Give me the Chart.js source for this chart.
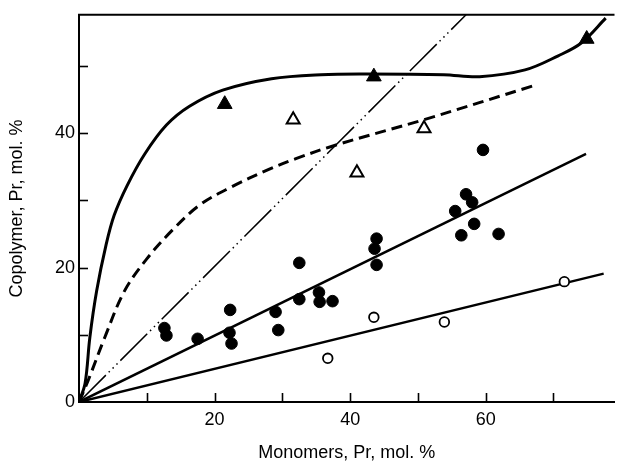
<!DOCTYPE html>
<html lang="en">
<head>
<meta charset="UTF-8">
<title>Copolymer vs Monomers</title>
<script src="https://cdn.jsdelivr.net/npm/chart.js"></script>
<style>
    html, body { margin: 0; padding: 0; background: #fff; }
    #wrap { width: 624px; height: 464px; }
</style>
</head>
<body>
<div id="wrap"><canvas id="chart" width="624" height="464"></canvas></div>
<script>
    // values (x = monomers Pr mol %, y = copolymer Pr mol %)
    const filledTriangles = [[21.5, 44.3], [43.5, 48.4], [74.9, 54.0]];
    const openTriangles = [[31.6, 42.0], [50.9, 40.7], [41.0, 34.1]];
    const filledCircles = [
        [12.6, 11.0], [12.9, 9.9], [17.5, 9.4], [22.3, 13.7], [22.2, 10.3], [22.5, 8.7],
        [29.0, 13.4], [29.4, 10.7], [32.5, 20.7], [32.5, 15.3], [35.4, 16.3], [35.5, 14.9],
        [37.4, 15.0], [43.9, 24.3], [43.6, 22.8], [43.9, 20.4], [56.4, 24.8], [61.9, 25.0],
        [58.3, 26.5], [55.5, 28.4], [57.1, 30.9], [58.0, 29.7], [59.6, 37.5]
    ];
    const openCircles = [[36.7, 6.5], [43.5, 12.6], [53.9, 11.9], [71.6, 17.9]];

    const solidCurve = [
        [0, 0], [0.9, 2.8], [1.6, 9.6], [2.6, 16.5], [4.0, 23.4], [5.2, 27.8], [7.1, 32.2],
        [9.7, 36.9], [12.9, 41.2], [16.3, 44.0], [21.2, 46.4], [28.4, 48.1], [35.7, 48.7],
        [42.4, 48.8], [53.8, 48.7], [59.1, 48.4], [65.8, 49.4], [70.7, 51.5], [74.1, 53.4], [77.7, 57.1]
    ];
    const dashedCurve = [
        [0, 0], [1.35, 3.2], [3.8, 9.6], [6.7, 16.5], [10.0, 21.3], [13.9, 25.7], [17.8, 29.3],
        [22.3, 31.9], [28.0, 34.6], [32.0, 36.2], [37.8, 38.2], [50.9, 42.0], [67.2, 47.1]
    ];
    const diagonalLine = [[0, 0], [57.1, 57.6]];
    const circlesLine = [[0, 0], [74.8, 36.9]];
    const openCirclesLine = [[0, 0], [77.4, 19.1]];

    const xTickValues = [10, 20, 30, 40, 50, 60, 70];
    const yTickValues = [0, 10, 20, 30, 40, 50];
    const xLabelValues = [20, 40, 60];
    const yLabelValues = [0, 20, 40];

    const pts = arr => arr.map(p => ({x: p[0], y: p[1]}));
    const font = {family: "'Liberation Sans', Arial, sans-serif", size: 18};

    // inward tick marks and the top frame line
    const framePlugin = {
        id: 'frame',
        afterDraw(chart) {
            const {ctx, chartArea, scales} = chart;
            ctx.save();
            ctx.strokeStyle = '#000';
            ctx.lineWidth = 2;
            ctx.beginPath();
            ctx.moveTo(chartArea.left - 1, chartArea.top);
            ctx.lineTo(chartArea.right, chartArea.top);
            ctx.stroke();
            ctx.lineWidth = 1.6;
            xTickValues.forEach(v => {
                const px = Math.round(scales.x.getPixelForValue(v)) + 0.5;
                ctx.beginPath();
                ctx.moveTo(px, chartArea.bottom);
                ctx.lineTo(px, chartArea.bottom - 9);
                ctx.stroke();
            });
            yTickValues.slice(1).forEach(v => {
                const py = Math.round(scales.y.getPixelForValue(v)) + 0.5;
                ctx.beginPath();
                ctx.moveTo(chartArea.left, py);
                ctx.lineTo(chartArea.left + 9, py);
                ctx.stroke();
            });
            ctx.restore();
        }
    };

    new Chart(document.getElementById('chart'), {
        type: 'scatter',
        data: {
            datasets: [
                {data: pts(filledTriangles), pointStyle: 'triangle', pointRadius: 8.5,
                    backgroundColor: '#000', borderColor: '#000', borderWidth: 1},
                {data: pts(openTriangles), pointStyle: 'triangle', pointRadius: 7.5,
                    backgroundColor: '#fff', borderColor: '#000', borderWidth: 2},
                {data: pts(filledCircles), pointRadius: 5.8,
                    backgroundColor: '#000', borderColor: '#000', borderWidth: 1},
                {data: pts(openCircles), pointRadius: 4.8,
                    backgroundColor: '#fff', borderColor: '#000', borderWidth: 1.8},
                {type: 'line', data: pts(solidCurve), showLine: true, pointRadius: 0,
                    borderColor: '#000', borderWidth: 3, tension: 0.35},
                {type: 'line', data: pts(dashedCurve), showLine: true, pointRadius: 0,
                    borderColor: '#000', borderWidth: 3, borderDash: [11, 6], tension: 0.35},
                {type: 'line', data: pts(diagonalLine), showLine: true, pointRadius: 0,
                    borderColor: '#000', borderWidth: 1.5, borderDash: [38, 4, 1.5, 4, 1.5, 4, 1.5, 4]},
                {type: 'line', data: pts(circlesLine), showLine: true, pointRadius: 0,
                    borderColor: '#000', borderWidth: 2.5},
                {type: 'line', data: pts(openCirclesLine), showLine: true, pointRadius: 0,
                    borderColor: '#000', borderWidth: 2.5}
            ]
        },
        options: {
            responsive: false,
            animation: false,
            layout: {padding: {left: 0, right: 0, top: 10, bottom: 0}},
            plugins: {legend: {display: false}, tooltip: {enabled: false}},
            scales: {
                x: {
                    type: 'linear', min: 0, max: 79,
                    afterBuildTicks: s => { s.ticks = xTickValues.map(v => ({value: v})); },
                    afterFit: s => { s.height = 62; },
                    grid: {display: false, drawTicks: false},
                    border: {display: true, color: '#000', width: 2},
                    ticks: {
                        color: '#000', font: font, padding: 7, maxRotation: 0, autoSkip: false,
                        callback: v => xLabelValues.includes(v) ? String(v) : ''
                    },
                    title: {display: true, text: 'Monomers, Pr, mol. %', color: '#000', font: font,
                        padding: {top: 0, bottom: 0}}
                },
                y: {
                    type: 'linear', min: 0, max: 57.6,
                    afterBuildTicks: s => { s.ticks = yTickValues.map(v => ({value: v})); },
                    afterFit: s => { s.width = 79; },
                    grid: {display: false, drawTicks: false},
                    border: {display: true, color: '#000', width: 2},
                    ticks: {
                        color: '#000', font: font, padding: 4, autoSkip: false,
                        callback: v => yLabelValues.includes(v) ? String(v) : ''
                    },
                    title: {display: true, text: 'Copolymer, Pr, mol. %', color: '#000', font: font,
                        padding: {top: 6, bottom: 0}}
                }
            }
        },
        plugins: [framePlugin]
    });
</script>
</body>
</html>
